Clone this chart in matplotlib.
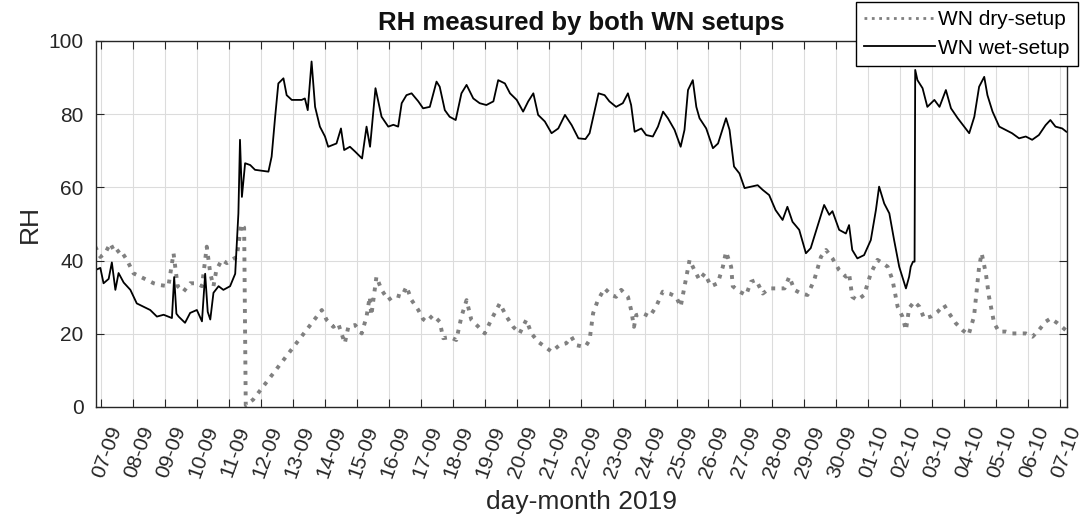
import numpy as np
from matplotlib import pyplot as plt
import matplotlib.dates as mdates
from matplotlib.transforms import ScaledTranslation

plt.rcParams['font.family'] = ['Liberation Sans', 'DejaVu Sans']

# time axis: days after 07-09-2019 00:00
wet_day = [-0.19, -0.03, 0.07, 0.23, 0.33, 0.44, 0.54, 0.70, 0.91, 1.11,
           1.32, 1.53, 1.74, 1.95, 2.21, 2.28, 2.35, 2.42, 2.62, 2.78,
           2.99, 3.15, 3.25, 3.33, 3.41, 3.51, 3.67, 3.82, 4.03, 4.19,
           4.29, 4.34, 4.40, 4.50, 4.66, 4.81, 5.23, 5.33, 5.44, 5.54,
           5.70, 5.80, 5.96, 6.27, 6.37, 6.46, 6.58, 6.69, 6.84, 7.00,
           7.10, 7.36, 7.50, 7.60, 7.78, 7.94, 8.16, 8.30, 8.41, 8.58,
           8.77, 8.98, 9.14, 9.29, 9.40, 9.55, 9.71, 9.92, 10.07, 10.28,
           10.49, 10.59, 10.75, 10.90, 11.09, 11.27, 11.43, 11.64, 11.84, 12.05,
           12.27, 12.42, 12.63, 12.79, 13.00, 13.20, 13.36, 13.52, 13.67, 13.88,
           14.09, 14.30, 14.51, 14.72, 14.93, 15.15, 15.28, 15.44, 15.56, 15.75,
           15.90, 16.11, 16.32, 16.48, 16.58, 16.69, 16.90, 17.05, 17.26, 17.42,
           17.58, 17.73, 17.94, 18.13, 18.25, 18.36, 18.51, 18.62, 18.72, 18.93,
           19.14, 19.30, 19.55, 19.66, 19.80, 19.97, 20.13, 20.33, 20.54, 20.70,
           20.90, 21.10, 21.32, 21.47, 21.63, 21.84, 22.05, 22.20, 22.41, 22.62,
           22.78, 22.88, 23.09, 23.30, 23.40, 23.50, 23.66, 23.87, 24.08, 24.24,
           24.34, 24.50, 24.66, 24.81, 24.97, 25.18, 25.28, 25.33, 25.40, 25.45,
           25.47, 25.54, 25.70, 25.85, 26.07, 26.23, 26.43, 26.59, 26.80, 27.00,
           27.16, 27.32, 27.47, 27.63, 27.73, 27.89, 28.10, 28.30, 28.50, 28.72,
           28.93, 29.13, 29.34, 29.55, 29.70, 29.86, 30.07, 30.20]
wet_rh = [37.4, 38.0, 33.8, 35.0, 39.5, 32.0, 36.6, 34.0, 32.0, 28.3,
          27.4, 26.5, 24.7, 25.2, 24.3, 35.5, 25.5, 24.7, 23.0, 25.7,
          26.5, 23.4, 36.4, 26.0, 23.9, 31.2, 33.0, 32.0, 33.0, 36.4,
          52.9, 73.0, 57.4, 66.6, 66.1, 64.8, 64.3, 68.4, 79.3, 88.4,
          89.8, 85.2, 83.9, 83.9, 84.3, 81.1, 94.4, 82.0, 76.6, 73.9,
          71.1, 72.0, 76.1, 70.2, 71.1, 69.8, 67.9, 76.6, 71.1, 87.1,
          79.3, 76.6, 77.1, 76.6, 83.0, 85.2, 85.7, 83.5, 81.6, 82.0,
          88.9, 87.5, 81.1, 79.3, 78.4, 85.7, 88.0, 84.3, 83.0, 82.5,
          83.5, 89.3, 88.4, 85.7, 83.9, 80.7, 83.5, 85.7, 79.8, 78.0,
          74.8, 76.1, 79.8, 77.0, 73.4, 73.2, 74.8, 81.1, 85.7, 85.2,
          83.5, 82.0, 83.0, 85.7, 82.5, 75.2, 76.1, 74.3, 73.9, 76.6,
          80.7, 78.9, 75.7, 71.1, 75.7, 86.6, 89.3, 82.0, 78.9, 76.1,
          70.7, 72.0, 78.9, 75.7, 65.7, 63.8, 59.8, 60.2, 60.6, 59.3,
          57.9, 53.8, 51.1, 54.7, 50.6, 48.4, 42.0, 43.4, 49.3, 55.2,
          52.5, 53.5, 48.4, 47.4, 49.7, 42.9, 40.6, 41.5, 45.6, 53.8,
          60.2, 55.6, 52.9, 45.6, 38.3, 32.4, 35.6, 38.3, 39.7, 39.7,
          92.1, 89.3, 87.1, 82.0, 83.9, 82.0, 86.6, 81.6, 78.9, 76.6,
          74.8, 79.3, 87.5, 90.2, 85.2, 80.7, 76.6, 75.7, 74.8, 73.4,
          73.9, 73.0, 74.3, 77.0, 78.4, 76.6, 76.1, 75.2]

dry_day = [-0.19, -0.03, 0.12, 0.28, 0.44, 0.59, 0.80, 1.01, 1.22, 1.43,
           1.64, 1.84, 2.10, 2.26, 2.39, 2.57, 2.78, 2.99, 3.15, 3.30,
           3.41, 3.51, 3.60, 3.77, 3.93, 4.08, 4.24, 4.38, 4.47, 4.52,
           4.75, 6.90, 7.05, 7.26, 7.41, 7.62, 7.73, 7.94, 8.15, 8.30,
           8.40, 8.45, 8.61, 8.77, 8.98, 9.19, 9.40, 9.55, 9.71, 9.92,
           10.07, 10.18, 10.38, 10.59, 10.70, 10.91, 11.11, 11.27, 11.43, 11.58,
           11.79, 12.00, 12.20, 12.47, 12.68, 12.89, 13.09, 13.30, 13.46, 13.67,
           13.88, 14.09, 14.34, 14.55, 14.71, 14.86, 15.07, 15.15, 15.28, 15.39,
           15.54, 15.75, 15.96, 16.11, 16.27, 16.48, 16.58, 16.67, 16.74, 16.95,
           17.16, 17.36, 17.57, 17.78, 17.99, 18.13, 18.25, 18.41, 18.56, 18.72,
           18.88, 19.08, 19.29, 19.45, 19.55, 19.71, 19.76, 19.97, 20.18, 20.33,
           20.49, 20.70, 20.91, 21.17, 21.38, 21.53, 21.69, 21.90, 22.10, 22.31,
           22.52, 22.68, 22.88, 23.09, 23.30, 23.40, 23.50, 23.66, 23.87, 24.08,
           24.29, 24.45, 24.61, 24.76, 24.92, 25.07, 25.18, 25.28, 25.44, 25.60,
           25.75, 25.96, 26.17, 26.37, 26.53, 26.74, 26.95, 27.14, 27.31, 27.47,
           27.55, 27.68, 27.78, 27.94, 28.09, 28.30, 28.51, 28.72, 28.93, 29.14,
           29.34, 29.55, 29.71, 29.92, 30.18]
dry_rh = [43.8, 41.0, 42.0, 44.7, 42.0, 43.0, 40.2, 36.5, 35.6, 34.7,
          33.8, 33.3, 33.0, 42.0, 33.0, 31.5, 33.8, 33.8, 33.0, 43.8,
          36.5, 33.0, 37.4, 40.2, 39.3, 40.2, 41.0, 50.0, 49.0, 0.5,
          2.0, 26.5, 23.8, 21.9, 22.9, 17.4, 21.9, 22.4, 20.1, 24.7,
          30.1, 25.0, 35.6, 32.0, 29.2, 30.6, 30.1, 32.9, 29.2, 26.5,
          24.0, 23.3, 25.1, 23.3, 18.8, 19.1, 18.3, 24.7, 29.2, 23.8,
          22.0, 20.1, 23.8, 28.3, 24.7, 21.9, 20.1, 23.8, 20.1, 17.8,
          16.5, 15.1, 16.9, 17.4, 19.2, 16.9, 16.5, 16.5, 18.3, 25.6,
          29.2, 32.4, 30.6, 30.1, 32.0, 30.1, 26.5, 21.9, 25.1, 25.6,
          24.7, 27.4, 31.5, 31.0, 30.1, 27.4, 32.9, 40.2, 37.4, 34.7,
          36.5, 33.0, 33.8, 38.3, 42.4, 38.3, 33.0, 31.5, 30.6, 34.2,
          34.7, 31.0, 32.4, 32.4, 32.4, 35.6, 32.0, 31.0, 30.6, 34.7,
          41.0, 42.9, 40.6, 37.4, 35.6, 36.5, 30.1, 29.2, 30.6, 36.5,
          40.2, 39.3, 38.3, 34.7, 27.4, 24.7, 21.0, 27.0, 28.8, 27.4,
          24.2, 24.7, 26.0, 27.9, 25.6, 22.9, 21.0, 19.7, 24.7, 38.3,
          42.0, 36.5, 30.1, 22.9, 20.6, 20.6, 20.1, 20.1, 20.1, 19.2,
          21.0, 23.3, 24.2, 22.9, 21.0]

start = np.datetime64('2019-09-07T00:00')
tick_days = np.arange(0, 31)

def to_time(days):
    return start + (np.array(days) * 86400).astype('timedelta64[s]')

fig = plt.figure(figsize=(10.86, 5.24), dpi=100)
ax = fig.add_axes([0.0884, 0.2233, 0.8941, 0.6985])

ax.plot(to_time(dry_day), dry_rh, ':', color='#808080', lw=2.8, label='WN dry-setup')
ax.plot(to_time(wet_day), wet_rh, '-', color='k', lw=1.3, label='WN wet-setup')

ax.set_xlim(to_time(-0.166), to_time(30.22))
ax.set_ylim(0, 100)
ax.set_xticks(to_time(tick_days))
ax.set_yticks(np.arange(0, 101, 20))
ax.xaxis.set_major_formatter(mdates.DateFormatter('%d-%m'))

ax.grid(True, color='#dcdcdc', lw=0.8)
ax.set_axisbelow(True)
ax.tick_params(direction='in', length=6, top=True, right=True,
               color='#262626', labelcolor='#262626', labelsize=15)
ax.tick_params(axis='x', pad=12)
ax.tick_params(axis='y', pad=9)
for s in ax.spines.values():
    s.set_color('#262626')
    s.set_linewidth(1.0)

# rotated day labels, nudged a little to the right of their ticks
shift = ScaledTranslation(6 / 100, 0, fig.dpi_scale_trans)
for lab in ax.get_xticklabels():
    lab.set_rotation(70)
    lab.set_ha('center')
    lab.set_transform(lab.get_transform() + shift)

ax.set_title('RH measured by both WN setups', fontsize=18.5, fontweight='bold',
             color='#111111', pad=8)
ax.set_ylabel('RH', fontsize=19, color='#262626', labelpad=5)
ax.set_xlabel('day-month 2019', fontsize=19, color='#262626', labelpad=7)

leg = ax.legend(loc='upper right', bbox_to_anchor=(1078 / 1086, 522 / 524),
                bbox_transform=fig.transFigure, fancybox=False, edgecolor='k',
                framealpha=1, fontsize=15, handlelength=3.4, handletextpad=0.15,
                borderpad=0.4, labelspacing=0.45, borderaxespad=0)
leg.get_frame().set_linewidth(1.0)
leg.get_lines()[0].set_linewidth(2.0)

fig.savefig('out.png', dpi=100)
